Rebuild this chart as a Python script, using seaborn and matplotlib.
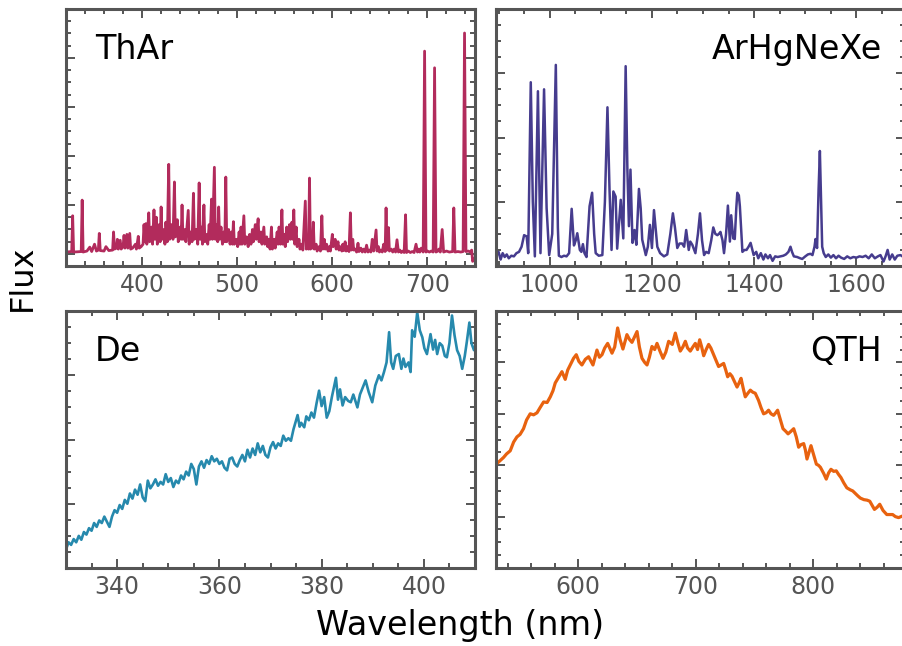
import matplotlib
matplotlib.use("Agg")
import matplotlib.pyplot as plt
import seaborn as sns
from matplotlib.ticker import MultipleLocator

# ThAr lamp spectrum (arbitrary flux units)
thar_nm = [320, 326, 327, 328, 336, 337, 338, 342, 345, 347, 350, 352, 354, 355, 356,
           360, 362, 365, 369, 370, 371, 373, 374, 375, 377, 378, 380, 381, 382, 384, 385,
           387, 388, 390, 393, 394, 396, 397, 399,
           401, 402, 403, 404, 405, 407, 408, 410, 411, 412.5, 413.5, 415, 416, 418, 419,
           420, 421, 423, 424, 425, 426.5, 428, 429, 431, 432.5, 434, 435, 437, 438, 440,
           441, 442, 443, 445, 446, 448.5, 449.5, 451, 452.5, 454, 455, 457, 458.5, 460,
           461, 462.5, 463.5, 465, 466, 468, 469, 470.5, 471.5, 473, 474, 476, 477, 478.5,
           479.5, 480.5, 481.5, 483, 484.5, 486, 487, 488, 489, 491, 492.5, 494, 495, 496,
           497, 499, 500.5, 502, 503, 504, 505, 507, 508, 510, 511.5, 513, 514.5, 516, 517,
           519, 520, 522, 523, 525, 526, 528, 529, 531, 532, 533.5, 534.5, 536, 537, 539,
           540, 542, 543, 544, 545.5, 547, 548, 549.5, 550.5, 552, 553, 555, 556, 557.5,
           558.5, 559.5, 560.5, 562, 563, 565, 566, 568, 569, 571.6, 572.6, 574, 575, 576,
           577, 578, 579, 580, 581, 583, 584, 586, 587.5, 589, 590, 591.5, 592.5, 594,
           595.5, 597, 598, 600, 601, 603, 604, 606, 607, 608.5, 610, 611, 612, 613.5,
           614.5, 616, 617.5, 619, 620, 621.5, 622.5, 624, 625.5, 627, 628, 630, 631.5,
           633, 634.5, 636, 637.5, 639, 640.5, 642, 643.5, 646, 647, 648.5, 649.5, 651,
           652.5, 654, 655.5, 656.5, 657.5, 659, 660, 662, 663.5, 665, 666.5, 668, 669.5,
           671, 672.5, 674, 675.5, 677, 678, 680, 682, 684, 686, 688, 689.5, 691, 692,
           693.5, 695.5, 697, 698.5, 700, 702, 704, 706, 707.5, 709, 711, 712, 713.5,
           715.5, 717, 720, 723, 726.5, 727.7, 729, 732, 735, 737.5, 739, 740.5, 743, 745,
           746.5, 747.5, 749, 750]
thar_flux = [0.04, 0.05, 0.78, 0.04, 0.05, 1.10, 0.04, 0.06, 0.14, 0.05, 0.20, 0.06, 0.08,
             0.42, 0.07, 0.06, 0.15, 0.07, 0.08, 0.45, 0.10, 0.12, 0.30, 0.10, 0.28, 0.10,
             0.15, 0.38, 0.12, 0.40, 0.12, 0.42, 0.10, 0.12, 0.20, 0.10, 0.36, 0.12, 0.15,
             0.20, 0.60, 0.25, 0.62, 0.20, 0.84, 0.25, 0.55, 0.20, 0.90, 0.30, 0.75, 0.20,
             0.60, 0.25, 0.96, 0.30, 0.50, 0.20, 0.65, 0.25, 1.83, 0.30, 0.60, 0.30, 1.47,
             0.35, 0.70, 0.25, 0.55, 0.30, 1.00, 0.30, 0.50, 0.25, 0.89, 0.20, 0.45, 0.25,
             1.24, 0.30, 0.50, 0.20, 1.45, 0.30, 0.55, 0.20, 1.00, 0.25, 0.40, 0.20, 0.60,
             0.30, 1.12, 0.30, 1.77, 0.30, 0.60, 0.25, 0.96, 0.30, 0.55, 0.20, 0.45, 0.25,
             1.57, 0.25, 0.50, 0.20, 0.45, 0.20, 0.66, 0.20, 0.30, 0.15, 0.45, 0.20, 0.55,
             0.20, 0.78, 0.20, 0.35, 0.15, 0.40, 0.20, 0.50, 0.25, 0.60, 0.30, 0.72, 0.25,
             0.45, 0.20, 0.55, 0.20, 0.35, 0.15, 0.30, 0.10, 0.55, 0.10, 0.30, 0.12, 0.45,
             0.20, 0.55, 0.20, 0.90, 0.20, 0.40, 0.15, 0.55, 0.25, 0.60, 0.30, 0.65, 0.30,
             0.90, 0.20, 0.55, 0.15, 0.30, 0.10, 0.20, 0.08, 1.08, 0.10, 0.30, 0.10, 1.55,
             0.10, 0.30, 0.12, 0.65, 0.10, 0.20, 0.06, 0.15, 0.06, 0.78, 0.10, 0.30, 0.10,
             0.20, 0.06, 0.15, 0.06, 0.40, 0.15, 0.30, 0.10, 0.25, 0.08, 0.15, 0.06, 0.20,
             0.07, 0.25, 0.06, 0.15, 0.05, 0.84, 0.08, 0.30, 0.08, 0.10, 0.04, 0.22, 0.05,
             0.12, 0.04, 0.10, 0.04, 0.18, 0.04, 0.08, 0.04, 0.30, 0.06, 0.49, 0.06, 0.15,
             0.04, 0.08, 0.04, 0.20, 0.05, 0.94, 0.08, 0.54, 0.06, 0.10, 0.04, 0.10, 0.04,
             0.29, 0.04, 0.08, 0.03, 0.06, 0.03, 0.80, 0.03, 0.06, 0.03, 0.05, 0.03, 0.20,
             0.04, 0.10, 0.04, 0.12, 0.04, 4.14, 0.04, 0.06, 0.04, 0.06, 0.04, 3.80, 0.04,
             0.06, 0.10, 0.04, 0.50, 0.04, 0.06, 0.04, 0.05, 0.94, 0.04, 0.05, 0.04, 0.05,
             4.51, 0.05, 0.06, 0.04, 0.08, -0.15, -0.10, -0.12]

# ArHgNeXe lamp spectrum
arhg_nm = [896, 900, 904, 908, 912, 916, 920, 925, 930, 935, 940, 945, 950, 955, 958, 963,
           967, 971, 977, 982, 989, 994, 999, 1005, 1012, 1016, 1018, 1023, 1028, 1033,
           1038, 1043, 1047.5, 1051, 1054, 1059, 1062, 1065, 1068, 1072, 1078, 1083, 1087,
           1090, 1096, 1103, 1108, 1113, 1117, 1121, 1124.5, 1129, 1132, 1139, 1144,
           1148.6, 1152, 1155, 1158, 1162, 1166, 1169.5, 1174.6, 1178, 1181, 1188, 1192,
           1196, 1200, 1204, 1207, 1210.5, 1216, 1223.5, 1230, 1236, 1241, 1245, 1249.6,
           1254, 1259, 1263, 1267, 1272, 1275, 1279, 1285, 1290, 1294, 1298, 1302, 1306,
           1311, 1316, 1320, 1324, 1328, 1331, 1334, 1338, 1341, 1345, 1348.6, 1352.5,
           1355, 1359, 1362, 1365, 1367, 1370, 1372, 1377, 1381, 1385, 1389, 1393, 1399,
           1404, 1408, 1413, 1418, 1422, 1427, 1431, 1436, 1441, 1446, 1452, 1457, 1462,
           1467, 1471, 1474, 1477.6, 1484, 1490, 1494, 1500, 1505, 1510, 1514, 1518, 1520,
           1523, 1526, 1528.5, 1531, 1533, 1536, 1540, 1545, 1550, 1555, 1560, 1565, 1570,
           1576, 1582, 1588, 1594, 1600, 1606, 1612, 1618, 1624, 1630, 1636, 1642, 1647,
           1653, 1657, 1661, 1665, 1670, 1675, 1680, 1686, 1692]
arhg_flux = [0.16, 0.22, 0.10, 0.20, 0.14, 0.18, 0.12, 0.16, 0.15, 0.20, 0.22, 0.30, 0.48,
             0.46, 0.20, 2.86, 1.00, 0.15, 2.72, 0.20, 2.75, 0.90, 0.17, 0.50, 3.13, 0.60,
             0.16, 0.14, 0.16, 0.15, 0.20, 0.89, 0.32, 0.40, 0.51, 0.25, 0.22, 0.34, 0.20,
             0.14, 0.93, 1.14, 0.50, 0.20, 0.16, 0.17, 1.00, 2.47, 1.20, 0.25, 1.16, 1.08,
             0.27, 1.03, 0.43, 3.11, 1.50, 0.62, 1.50, 0.36, 0.56, 0.33, 1.20, 0.90, 0.41,
             0.17, 0.30, 0.64, 0.28, 0.87, 0.60, 0.30, 0.20, 0.15, 0.18, 0.50, 0.82, 0.60,
             0.28, 0.35, 0.35, 0.30, 0.56, 0.25, 0.38, 0.33, 0.20, 0.50, 0.82, 0.40, 0.17,
             0.22, 0.20, 0.40, 0.60, 0.50, 0.48, 0.50, 0.53, 0.40, 0.20, 0.50, 0.94, 0.38,
             0.79, 0.43, 0.42, 0.90, 1.14, 1.10, 0.93, 0.22, 0.25, 0.25, 0.30, 0.36, 0.17,
             0.22, 0.12, 0.20, 0.10, 0.18, 0.12, 0.17, 0.08, 0.15, 0.14, 0.15, 0.16, 0.18,
             0.22, 0.30, 0.22, 0.15, 0.14, 0.12, 0.11, 0.15, 0.18, 0.19, 0.17, 0.30, 0.42,
             0.28, 1.20, 1.79, 1.00, 0.30, 0.20, 0.14, 0.18, 0.13, 0.17, 0.12, 0.16, 0.13,
             0.11, 0.15, 0.12, 0.14, 0.13, 0.15, 0.14, 0.16, 0.12, 0.18, 0.12, 0.15, 0.17,
             0.07, 0.15, 0.25, 0.10, 0.18, 0.10, 0.16, 0.17, 0.14]

# Deuterium lamp
de_nm = [330.0, 330.5, 331.0, 331.5, 332.0, 332.5, 333.0, 333.5, 334.0, 334.5, 335.0, 335.5,
         336.0, 336.5, 337.0, 337.5, 338.0, 338.5, 339.0, 339.5, 340.0, 340.5, 341.0, 341.5,
         342.0, 342.5, 343.0, 343.5, 344.0, 344.5, 345.0, 345.5, 346.0, 346.5, 347.0, 347.5,
         348.0, 348.5, 349.0, 349.5, 350.0, 350.5, 351.0, 351.5, 352.0, 352.5, 353.0, 353.5,
         354.0, 354.5, 355.0, 355.5, 356.0, 356.5, 357.0, 357.5, 358.0, 358.5, 359.0, 359.5,
         360.0, 360.5, 361.0, 361.5, 362.0, 362.5, 363.0, 363.5, 364.0, 364.5, 365.0, 365.5,
         366.0, 366.5, 367.0, 367.5, 368.0, 368.5, 369.0, 369.5, 370.0, 370.5, 371.0, 371.5,
         372.0, 372.5, 373.0, 373.5, 374.0, 374.5, 375.0, 375.3, 375.7, 376.0, 376.6, 377.0,
         377.5, 378.0, 378.5, 379.0, 379.5, 380.0, 380.5, 381.0, 381.5, 382.0, 382.8, 383.2,
         383.6, 384.1, 384.6, 385.2, 385.7, 386.2, 387.0, 387.5, 388.0, 388.6, 389.2, 389.9,
         390.5, 391.2, 391.7, 392.2, 392.7, 393.2, 393.6, 394.0, 394.5, 395.1, 395.6, 396.0,
         396.4, 397.0, 397.4, 397.7, 398.2, 398.7, 399.2, 399.7, 400.1, 400.6, 401.3, 401.8,
         402.2, 402.6, 403.1, 403.6, 404.1, 404.5, 405.0, 405.5, 406.0, 406.5, 407.0, 407.5,
         408.0, 408.4, 408.9, 409.3, 409.8]
de_flux = [0.29, 0.40, 0.36, 0.45, 0.40, 0.50, 0.44, 0.56, 0.52, 0.62, 0.58, 0.70, 0.64, 0.74,
           0.70, 0.80, 0.72, 0.64, 0.80, 0.90, 0.86, 0.98, 0.92, 1.06, 1.00, 1.16, 1.08, 1.22,
           1.14, 1.30, 1.10, 1.04, 1.36, 1.24, 1.30, 1.38, 1.28, 1.34, 1.30, 1.46, 1.34, 1.40,
           1.26, 1.36, 1.32, 1.44, 1.38, 1.50, 1.44, 1.62, 1.54, 1.30, 1.58, 1.66, 1.56, 1.68,
           1.62, 1.74, 1.66, 1.70, 1.62, 1.66, 1.56, 1.52, 1.70, 1.72, 1.62, 1.58, 1.68, 1.76,
           1.66, 1.84, 1.72, 1.86, 1.76, 1.94, 1.80, 1.90, 1.76, 1.72, 1.88, 1.96, 1.86, 1.94,
           1.90, 2.06, 1.98, 2.02, 1.98, 2.16, 2.30, 2.38, 2.20, 2.26, 2.19, 2.36, 2.30, 2.42,
           2.34, 2.56, 2.76, 2.52, 2.66, 2.34, 2.44, 2.66, 2.96, 2.62, 2.78, 2.53, 2.66, 2.60,
           2.58, 2.70, 2.50, 2.70, 2.80, 2.92, 2.74, 2.58, 2.84, 3.00, 2.92, 3.05, 3.20, 3.67,
           3.20, 3.10, 3.30, 3.33, 3.10, 3.26, 3.13, 3.20, 3.05, 3.70, 3.60, 3.98, 3.70, 3.59,
           3.42, 3.33, 3.64, 3.40, 3.55, 3.33, 3.50, 3.46, 3.30, 3.28, 3.50, 3.93, 3.62, 3.39,
           3.30, 3.10, 3.30, 3.52, 3.82, 3.50, 3.39]

# Quartz tungsten halogen lamp
qth_nm = [530.2, 533.0, 536.4, 539.0, 542.1, 545.0, 547.8, 550.5, 553.4, 556.0, 559.1, 562.0,
          564.9, 567.5, 570.5, 573.5, 576.2, 578.5, 580.4, 583.0, 586.1, 588.9, 591.0, 593.2,
          596.0, 598.3, 600.5, 603.1, 606.0, 608.8, 612.5, 615.9, 618.0, 620.2, 622.5, 625.0,
          628.7, 631.0, 633.5, 635.5, 638.0, 641.4, 643.5, 645.7, 648.0, 650.0, 652.0, 654.2,
          656.5, 658.5, 660.5, 662.7, 665.0, 667.0, 669.5, 672.1, 674.5, 676.9, 680.0, 682.6,
          684.5, 686.8, 689.0, 691.1, 693.0, 695.3, 697.5, 699.6, 701.5, 703.3, 705.0, 706.7,
          708.8, 710.9, 712.8, 714.6, 717.0, 719.4, 721.5, 723.7, 725.5, 727.1, 729.0, 730.8,
          733.0, 735.1, 736.8, 738.5, 740.3, 742.1, 744.3, 746.4, 748.5, 750.6, 753.4, 755.5,
          757.7, 759.8, 761.9, 764.0, 766.2, 768.0, 769.6, 772.0, 774.2, 776.5, 778.5, 781.0,
          783.3, 785.5, 787.5, 789.5, 791.8, 793.2, 794.6, 796.3, 798.0, 800.3, 802.6, 804.3,
          806.0, 808.8, 811.0, 813.0, 815.0, 817.3, 819.5, 821.5, 823.5, 825.8, 828.5, 831.5,
          833.5, 835.7, 838.0, 840.0, 843.0, 845.7, 848.0, 850.0, 852.0, 854.2, 856.5, 859.3,
          862.5, 865.5, 867.5, 869.8, 872.5, 875.7, 878.0]
qth_flux = [2.02, 2.08, 2.15, 2.22, 2.28, 2.45, 2.55, 2.60, 2.71, 2.88, 3.00, 2.98, 3.02, 3.12,
            3.23, 3.22, 3.33, 3.45, 3.60, 3.70, 3.82, 3.67, 3.85, 3.95, 4.08, 4.15, 4.02, 3.95,
            4.06, 4.11, 3.95, 4.24, 4.10, 4.15, 4.28, 4.37, 4.18, 4.30, 4.67, 4.45, 4.26, 4.54,
            4.45, 4.39, 4.50, 4.60, 4.30, 4.08, 4.00, 3.95, 4.10, 4.31, 4.25, 4.37, 4.22, 4.08,
            4.20, 4.41, 4.35, 4.57, 4.40, 4.22, 4.30, 4.41, 4.28, 4.22, 4.30, 4.37, 4.25, 4.44,
            4.30, 4.13, 4.25, 4.35, 4.28, 4.18, 4.05, 3.92, 3.95, 3.98, 3.85, 3.72, 3.78, 3.73,
            3.62, 3.52, 3.60, 3.69, 3.50, 3.33, 3.40, 3.46, 3.42, 3.40, 3.26, 3.12, 3.00, 3.02,
            3.07, 3.00, 2.97, 3.02, 3.07, 2.88, 2.71, 2.66, 2.61, 2.66, 2.71, 2.55, 2.35, 2.40,
            2.42, 2.30, 2.12, 2.25, 2.38, 2.20, 2.02, 2.00, 1.96, 1.84, 1.73, 1.85, 1.92, 1.88,
            1.89, 1.82, 1.76, 1.66, 1.56, 1.52, 1.50, 1.45, 1.40, 1.36, 1.33, 1.32, 1.30, 1.22,
            1.14, 1.18, 1.24, 1.12, 1.04, 1.04, 1.04, 1.00, 0.98, 1.01, 1.00]

panels = [
    # name, nm, flux, colour, xlim, ylim, x major, x minor, y minor, label side
    ("ThAr", thar_nm, thar_flux, "#B22B5C", (320, 750), (-0.245, 5), 100, 20, 0.25, "left"),
    ("ArHgNeXe", arhg_nm, arhg_flux, "#463C8E", (895, 1695), (0, 4), 200, 50, 0.25, "right"),
    ("De", de_nm, de_flux, "#2689AD", (330, 410), (0, 4), 20, 5, 0.25, "left"),
    ("QTH", qth_nm, qth_flux, "#E8620F", (530, 878), (0, 5), 100, 20, 0.25, "right"),
]
line_widths = [2.0, 1.8, 1.9, 2.3]

sns.set_theme(style="ticks")
plt.rcParams['font.family'] = ['DejaVu Sans']
plt.rcParams['text.color'] = 'black'

W, H = 902, 646
fig = plt.figure(figsize=(W / 100, H / 100), dpi=100)
boxes = [(66, 9), (496, 9), (66, 311), (496, 311)]  # left, top in pixels

for (name, nm, flux, col, xl, yl, xmaj, xmin, ymin, side), lw, (px, py) in zip(panels, line_widths, boxes):
    ax = fig.add_axes([px / W, 1 - (py + 257) / H, 409 / W, 257 / H])
    sns.lineplot(x=nm, y=flux, ax=ax, color=col, linewidth=lw, estimator=None, sort=False)
    ax.set_xlim(*xl)
    ax.set_ylim(*yl)
    ax.xaxis.set_major_locator(MultipleLocator(xmaj))
    ax.xaxis.set_minor_locator(MultipleLocator(xmin))
    ax.yaxis.set_major_locator(MultipleLocator(1))
    ax.yaxis.set_minor_locator(MultipleLocator(ymin))
    ax.tick_params(which="both", direction="in", top=True, right=True,
                   color="#555555", width=1.4, labelleft=False)
    ax.tick_params(which="major", length=6.5, labelsize=17, labelcolor="#555555", pad=5)
    ax.tick_params(which="minor", length=3.5)
    for sp in ax.spines.values():
        sp.set_linewidth(2.2)
        sp.set_color("#555555")
    ax.set_xlabel("")
    ax.set_ylabel("")
    if side == "left":
        ax.text(0.071, 0.805, name, transform=ax.transAxes, fontsize=24,
                ha="left", va="baseline", color="black")
    else:
        ax.text(0.943, 0.805, name, transform=ax.transAxes, fontsize=24,
                ha="right", va="baseline", color="black")

fig.text(22 / W, 1 - 278 / H, "Flux", rotation=90, ha="center", va="center",
         fontsize=23, color="black")
fig.text(460 / W, 1 - 635 / H, "Wavelength (nm)", ha="center", va="baseline",
         fontsize=24, color="black")

fig.savefig("out.png", dpi=100)
